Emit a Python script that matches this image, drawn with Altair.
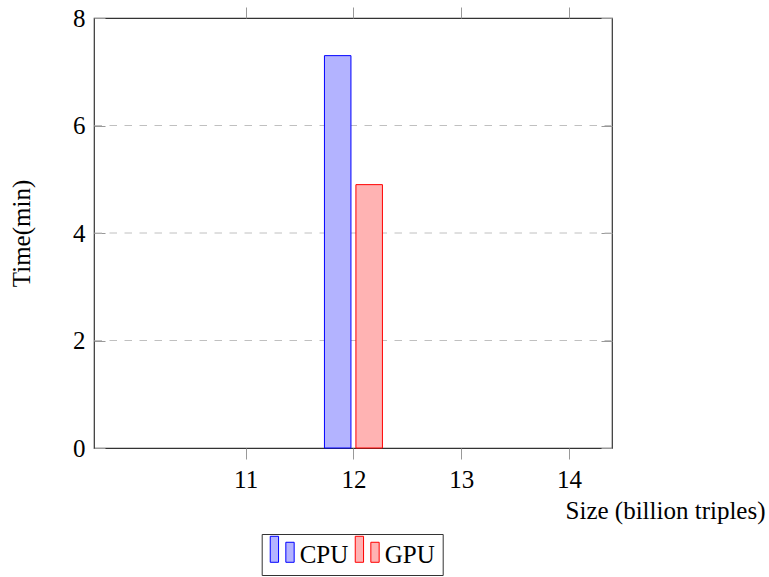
import altair as alt
import pandas as pd

# Measured run times per dataset size
series = ["CPU", "GPU"]
sizes = [12, 12]
times = [7.3, 4.9]

x_ticks = [11, 12, 13, 14]
y_ticks = [0, 2, 4, 6, 8]
grid_lines = [2, 4, 6]

fills = ["#b3b3ff", "#ffb3b3"]
strokes = ["#0000ff", "#ff0000"]

FONT = "Liberation Serif"
FS = 25
TICK = 11

# grouped bars: each series is shifted left/right of its size value
BAR_W = 0.246
SHIFT = 0.146
shift = {"CPU": -SHIFT, "GPU": SHIFT}

df = pd.DataFrame({"series": series, "size": sizes, "time": times})
df["x0"] = df["size"] + df["series"].map(shift) - BAR_W / 2
df["x1"] = df["x0"] + BAR_W

grid_df = pd.DataFrame({"level": grid_lines})

xs = alt.Scale(domain=[9.593, 14.399], nice=False, zero=False)
ys = alt.Scale(domain=[0, 8], nice=False)

# two bars side by side as the legend glyph
GLYPH = "M-0.92,-1.42H-0.28V0.58H-0.92Z M0.28,-0.96H0.92V0.58H0.28Z"

legend = alt.Legend(
    orient="none", legendX=167.7, legendY=516, direction="horizontal", columns=2,
    title=None, symbolType=GLYPH, symbolSize=676, symbolStrokeWidth=1, symbolOpacity=1,
    labelFont=FONT, labelFontSize=FS, labelColor="black", labelOffset=4,
    labelBaseline="middle", columnPadding=4, padding=7,
    strokeColor="#333333", fillColor="white",
)

color_dom = series

# dashed horizontal grid
grid = alt.Chart(grid_df).mark_rule(
    color="#c0c0c0", strokeWidth=1, strokeDash=[7.5, 7.5]
).encode(
    y=alt.Y("level:Q", scale=ys, axis=None),
)

bars = alt.Chart(df).mark_rect(strokeWidth=1).encode(
    x=alt.X("x0:Q", scale=xs, axis=alt.Axis(
        orient="bottom", values=x_ticks, format="d", domain=False, grid=False,
        tickSize=TICK, tickColor="#999999", tickWidth=1,
        labelFont=FONT, labelFontSize=FS, labelColor="black", labelPadding=8,
        title="Size (billion triples)", titleFont=FONT, titleFontSize=FS,
        titleFontWeight="normal", titleColor="black", titleAlign="right",
        titleAnchor="end", titleX=671, titleY=70, titleBaseline="alphabetic",
    )),
    x2="x1:Q",
    y=alt.Y("time:Q", scale=ys, axis=alt.Axis(
        orient="left", values=y_ticks, offset=-TICK, domain=False,
        tickSize=TICK, tickColor="#999999", tickWidth=1, grid=False,
        labelFont=FONT, labelFontSize=FS, labelColor="black", labelPadding=9,
        title="Time(min)", titleFont=FONT, titleFontSize=FS,
        titleFontWeight="normal", titleColor="black", titlePadding=38,
    )),
    y2=alt.Y2(datum=0),
    fill=alt.Fill("series:N", scale=alt.Scale(domain=color_dom, range=fills), legend=legend),
    stroke=alt.Stroke("series:N", scale=alt.Scale(domain=color_dom, range=strokes), legend=legend),
)

# mirrored tick marks on the top and right edges
mirror = alt.Chart(df).mark_point(opacity=0).encode(
    x=alt.X("size:Q", scale=xs, axis=alt.Axis(
        orient="top", values=x_ticks, labels=False, domain=False, grid=False,
        tickSize=TICK, tickColor="#999999", tickWidth=1, title=None,
    )),
    y=alt.Y("time:Q", scale=ys, axis=alt.Axis(
        orient="right", values=y_ticks, offset=-TICK, labels=False, domain=False,
        grid=False, tickSize=TICK, tickColor="#999999", tickWidth=1, title=None,
    )),
)

chart = alt.layer(grid, bars, mirror).properties(
    width=518, height=430,
    background="white",
    autosize=alt.AutoSizeParams(type="none"),
    padding={"left": 94, "top": 18, "right": 157, "bottom": 129},
).configure_view(
    stroke="#333333", strokeWidth=1.2,
)

chart.save("out.html", embed_options={"renderer": "svg", "actions": False})
